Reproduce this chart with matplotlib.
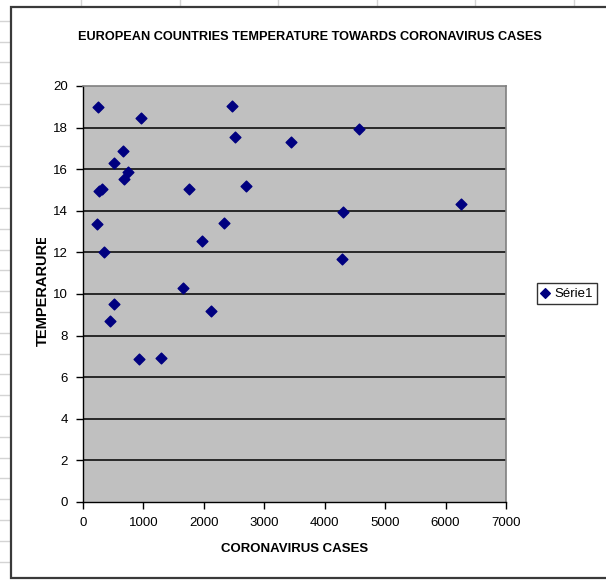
import matplotlib
matplotlib.use("Agg")
import matplotlib.pyplot as plt
from matplotlib.lines import Line2D
from matplotlib.patches import Rectangle
from matplotlib.transforms import Bbox, TransformedBbox

# Cas de coronavirus et température moyenne par pays européen
cases = [240, 965, 657, 513, 740, 673, 270, 320, 226, 353,
         1653, 1755, 1976, 2329, 2472, 2511, 2693, 3449, 4570,
         4305, 4288, 6263, 452, 513, 927, 1286, 2119]
temperatures = [19.0, 18.47, 16.89, 16.31, 15.88, 15.53, 14.94, 15.06, 13.37, 12.03,
                10.29, 15.05, 12.53, 13.41, 19.02, 17.53, 15.18, 17.29, 17.95,
                13.94, 11.70, 14.34, 8.70, 9.52, 6.88, 6.92, 9.17]

W, H = 606, 580
plt.rcParams["font.family"] = ["Liberation Sans", "DejaVu Sans"]

fig = plt.figure(figsize=(W / 100, H / 100), dpi=100)
fig.patch.set_facecolor("white")


def fx(x):
    return x / W


def fy(y):
    return 1 - y / H


# Quadrillage de la feuille autour du graphique
for i in range(28):
    y = 20.7 + i * 20.8
    fig.add_artist(Line2D([0, fx(11)], [fy(y), fy(y)], color="#d4d4d4", lw=1, zorder=-2))
for i in range(6):
    x = 81 + i * 98.5
    fig.add_artist(Line2D([fx(x), fx(x)], [1, fy(7)], color="#d4d4d4", lw=1, zorder=-2))

# Zone du graphique
fig.add_artist(Rectangle((fx(10.7), fy(578)), fx(620 - 10.7), (578 - 6.7) / H,
                         facecolor="white", edgecolor="#3a3a3a", lw=1.6, zorder=-1))

ax = fig.add_axes([fx(83), fy(502), fx(506 - 83), (502 - 86) / H])
ax.set_facecolor("#c0c0c0")
ax.scatter(cases, temperatures, marker="D", s=30, color="#000080",
           edgecolors="#000080", zorder=3, label="Série1")

ax.set_xlim(0, 7000)
ax.set_ylim(0, 20)
ax.set_xticks(range(0, 7001, 1000))
ax.set_yticks(range(0, 21, 2))
for v in range(2, 20, 2):
    ax.axhline(v, color="black", lw=1.1, zorder=1)

for side in ["top", "right"]:
    ax.spines[side].set_color("#808080")
    ax.spines[side].set_linewidth(1.2)
for side in ["left", "bottom"]:
    ax.spines[side].set_color("black")
    ax.spines[side].set_linewidth(1.0)
ax.tick_params(direction="out", length=5, width=1, labelsize=9.5, pad=6, colors="black")

fig.text(fx(310), fy(37), "EUROPEAN COUNTRIES TEMPERATURE TOWARDS CORONAVIRUS CASES",
         ha="center", va="center", fontsize=9.2, fontweight="bold")
ax.set_xlabel("CORONAVIRUS CASES", fontsize=9.5, fontweight="bold", labelpad=10)

# Titre de l'axe vertical, coupé en haut
ylab = fig.text(fx(43), fy(346), "TEMPERARURES", rotation=90, ha="center", va="bottom",
                fontsize=10.5, fontweight="bold")
ylab.set_clip_on(True)
ylab.set_clip_box(TransformedBbox(Bbox([[0, fy(350)], [fx(70), fy(238)]]), fig.transFigure))

leg = fig.legend(loc="center", bbox_to_anchor=(fx(567), fy(293.5)), fontsize=9.5,
                 frameon=True, fancybox=False, handlelength=0.6, handletextpad=0.4,
                 borderpad=0.35, markerscale=0.9)
leg.get_frame().set_edgecolor("black")
leg.get_frame().set_linewidth(1.0)

plt.savefig("out.png", dpi=100)
